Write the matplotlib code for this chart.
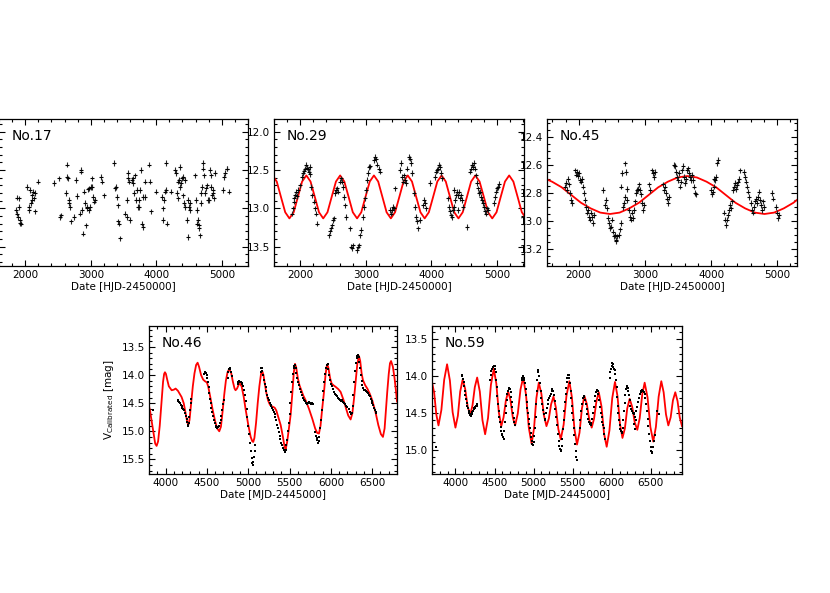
import numpy as np
import matplotlib
matplotlib.use('Agg')
import matplotlib.pyplot as plt
from matplotlib.ticker import MultipleLocator

plt.rcParams['font.family'] = ['DejaVu Sans']

# ============================================================================
# DATA
# ============================================================================

# --- No.17 (no model) ---
n17_date = [1856, 1872, 1882, 1892, 1903, 1913, 1928, 1938, 1908, 2026, 2051, 2062, 2077, 2087,
            2097, 2108, 2118, 2133, 2144, 2154, 2190, 2436, 2513, 2538, 2549, 2615, 2631, 2641,
            2651, 2662, 2672, 2682, 2692, 2744, 2769, 2795, 2836, 2846, 2856, 2872, 2882, 2897,
            2913, 2928, 2938, 2949, 2959, 2969, 2979, 2990, 3005, 3015, 3026, 3041, 3051, 3067,
            3154, 3179, 3205, 3359, 3369, 3385, 3395, 3410, 3420, 3436, 3446, 3523, 3549, 3554,
            3564, 3574, 3585, 3600, 3631, 3641, 3651, 3661, 3672, 3692, 3708, 3723, 3733, 3744,
            3754, 3764, 3785, 3795, 3805, 3821, 3831, 3892, 3903, 3913, 3990, 4087, 4097, 4108,
            4118, 4133, 4144, 4154, 4164, 4231, 4292, 4308, 4318, 4328, 4338, 4349, 4359, 4369,
            4385, 4395, 4405, 4415, 4426, 4436, 4446, 4462, 4477, 4487, 4497, 4508, 4518, 4590,
            4605, 4615, 4626, 4636, 4646, 4656, 4667, 4677, 4687, 4697, 4708, 4718, 4733, 4749,
            4759, 4769, 4785, 4800, 4821, 4831, 4841, 4851, 4862, 4872, 4882, 4892, 5015, 5036,
            5056, 5072, 5087, 5103]
n17_mag = [13.02, 13.07, 12.86, 13.11, 12.98, 13.15, 13.19, 13.20, 12.87, 12.72, 13.02, 12.98, 12.76, 12.93,
           12.89, 12.83, 12.78, 12.87, 12.80, 13.04, 12.65, 12.67, 12.61, 13.11, 13.09, 12.80, 12.59, 12.43,
           12.61, 12.89, 12.93, 12.98, 13.17, 13.11, 12.63, 12.84, 13.07, 12.52, 12.50, 13.02, 13.33, 12.78,
           12.93, 13.22, 12.98, 13.00, 12.75, 13.02, 12.74, 12.98, 12.72, 12.61, 12.72, 12.85, 12.91, 12.89,
           12.59, 12.65, 12.83, 12.41, 12.74, 12.72, 12.85, 12.96, 13.17, 13.20, 13.39, 13.07, 13.11, 12.89,
           12.61, 12.54, 12.65, 13.15, 12.63, 12.61, 12.67, 12.80, 12.57, 12.89, 12.76, 12.98, 12.89, 12.98,
           12.76, 12.50, 13.20, 13.24, 12.85, 12.65, 12.85, 12.43, 12.65, 13.04, 12.78, 12.85, 13.15, 13.00,
           12.89, 12.78, 12.41, 12.76, 13.20, 12.78, 12.50, 12.54, 12.80, 12.65, 12.87, 12.63, 12.46, 12.72,
           12.67, 12.61, 12.83, 12.59, 12.93, 12.98, 12.63, 13.15, 13.37, 12.89, 12.98, 12.93, 13.02, 12.57,
           12.89, 13.02, 13.20, 13.15, 13.22, 13.26, 13.35, 12.93, 12.80, 12.72, 12.41, 12.48, 12.57, 12.80,
           12.74, 12.70, 12.89, 12.89, 12.50, 12.57, 12.72, 12.83, 12.80, 12.76, 12.87, 12.54, 12.76, 12.59,
           12.54, 12.48, 12.48, 12.78]

# --- No.29 ---
n29_date = [1873, 1888, 1898, 1908, 1924, 1939, 1949, 1964, 2000, 2025, 2041, 2061, 2076, 2092, 2102,
            2117, 2132, 2142, 2153, 2168, 2183, 2203, 2219, 2234, 2249, 2432, 2447, 2463, 2478, 2493,
            2509, 2534, 2549, 2564, 2580, 2600, 2620, 2636, 2651, 2671, 2687, 2702, 2753, 2773, 2788,
            2803, 2864, 2880, 2895, 2915, 2931, 2951, 2966, 2981, 2997, 3012, 3027, 3048, 3068, 3129,
            3144, 3159, 3175, 3195, 3210, 3363, 3378, 3393, 3409, 3424, 3439, 3515, 3536, 3551, 3566,
            3581, 3597, 3612, 3627, 3653, 3668, 3683, 3698, 3729, 3754, 3770, 3785, 3800, 3820, 3871,
            3887, 3902, 3917, 3983, 4059, 4075, 4090, 4105, 4120, 4136, 4151, 4166, 4253, 4268, 4283,
            4298, 4314, 4329, 4344, 4359, 4375, 4390, 4405, 4420, 4436, 4451, 4466, 4481, 4400, 4349,
            4543, 4593, 4609, 4624, 4639, 4654, 4670, 4685, 4700, 4715, 4731, 4746, 4761, 4776, 4792,
            4807, 4822, 4837, 4853, 4868, 4949, 4964, 4980, 4995, 5010, 5025]
n29_mag = [13.07, 13.00, 12.91, 12.87, 12.83, 12.78, 12.84, 12.76, 12.70, 12.59, 12.54, 12.51, 12.48, 12.43, 12.47,
           12.49, 12.52, 12.55, 12.46, 12.72, 12.83, 12.91, 13.00, 13.07, 13.20, 13.35, 13.30, 13.26, 13.22, 13.15,
           13.13, 12.80, 12.76, 12.74, 12.78, 12.65, 12.61, 12.65, 12.72, 12.85, 12.96, 13.11, 13.26, 13.50, 13.52,
           13.48, 13.54, 13.50, 13.48, 13.35, 13.28, 13.11, 12.98, 12.87, 12.76, 12.63, 12.54, 12.46, 12.45, 12.37,
           12.33, 12.36, 12.43, 12.48, 12.52, 13.02, 13.07, 13.02, 12.98, 13.00, 12.74, 12.50, 12.41, 12.59, 12.65,
           12.57, 12.63, 12.67, 12.48, 12.33, 12.35, 12.41, 12.54, 12.80, 12.98, 13.11, 13.17, 13.26, 13.15, 12.96,
           12.89, 12.93, 13.00, 12.67, 12.59, 12.52, 12.50, 12.48, 12.43, 12.46, 12.54, 12.61, 12.87, 12.98, 13.04,
           13.09, 13.11, 13.02, 12.98, 12.89, 12.83, 12.78, 12.83, 12.78, 12.87, 12.83, 12.89, 12.98, 13.02, 12.76,
           13.24, 12.52, 12.48, 12.43, 12.46, 12.41, 12.48, 12.57, 12.67, 12.74, 12.80, 12.78, 12.85, 12.89, 12.93,
           12.98, 13.04, 13.07, 13.00, 13.02, 12.93, 12.85, 12.78, 12.74, 12.72, 12.68]
n29_model_date = [1578, 1642, 1706, 1771, 1835, 1900, 1964, 2028, 2093, 2157, 2222, 2286, 2350, 2415,
                  2479, 2544, 2608, 2672, 2737, 2801, 2866, 2930, 2994, 3059, 3123, 3188, 3252, 3316,
                  3381, 3445, 3510, 3574, 3638, 3703, 3767, 3832, 3896, 3960, 4025, 4089, 4154, 4218,
                  4282, 4347, 4411, 4476, 4540, 4604, 4669, 4733, 4798, 4862, 4926, 4991, 5055, 5120,
                  5184, 5248, 5313, 5377, 5442]
n29_model_mag = [12.57, 12.65, 12.85, 13.05, 13.13, 13.05, 12.85, 12.65, 12.57, 12.65, 12.85, 13.05, 13.13, 13.05,
                 12.85, 12.65, 12.57, 12.65, 12.85, 13.05, 13.13, 13.05, 12.85, 12.65, 12.57, 12.65, 12.85, 13.05,
                 13.13, 13.05, 12.85, 12.65, 12.57, 12.65, 12.85, 13.05, 13.13, 13.05, 12.85, 12.65, 12.57, 12.65,
                 12.85, 13.05, 13.13, 13.05, 12.85, 12.65, 12.57, 12.65, 12.85, 13.05, 13.13, 13.05, 12.85, 12.65,
                 12.57, 12.65, 12.85, 13.05, 13.13]

# --- No.45 ---
n45_date = [1787, 1802, 1817, 1832, 1848, 1863, 1878, 1893, 1949, 1964, 1980, 1995, 2010, 2025, 2041,
            2056, 2066, 2081, 2096, 2112, 2127, 2142, 2157, 2173, 2188, 2203, 2218, 2233, 2371, 2396,
            2411, 2431, 2447, 2462, 2477, 2492, 2508, 2523, 2538, 2553, 2569, 2563, 2584, 2604, 2624,
            2645, 2635, 2650, 2675, 2690, 2706, 2756, 2772, 2787, 2802, 2817, 2833, 2700, 2716, 2736,
            2736, 2853, 2868, 2883, 2898, 2914, 2929, 2944, 2959, 2975, 2990, 3066, 3081, 3107, 3122,
            3137, 3152, 3269, 3284, 3299, 3315, 3330, 3345, 3360, 3437, 3452, 3467, 3482, 3497, 3513,
            3528, 3543, 3558, 3574, 3589, 3604, 3619, 3634, 3650, 3665, 3680, 3695, 3711, 3726, 3741,
            3756, 3772, 3995, 4010, 4025, 4041, 4046, 4061, 4076, 4086, 4101, 4198, 4213, 4228, 4244,
            4259, 4274, 4289, 4305, 4320, 4330, 4345, 4360, 4376, 4391, 4406, 4421, 4437, 4502, 4518,
            4533, 4548, 4563, 4579, 4604, 4619, 4634, 4650, 4665, 4680, 4695, 4711, 4726, 4741, 4756,
            4772, 4787, 4802, 4919, 4934, 4985, 5000, 5015, 5030]
n45_mag = [12.755, 12.73, 12.78, 12.70, 12.74, 12.80, 12.85, 12.87, 12.64, 12.67, 12.65, 12.68, 12.66, 12.71, 12.72,
           12.70, 12.755, 12.80, 12.85, 12.90, 12.94, 12.92, 12.97, 12.99, 12.94, 12.97, 13.015, 12.955, 12.78, 12.885,
           12.85, 12.91, 12.98, 13.015, 13.05, 13.04, 12.99, 13.075, 13.11, 13.10, 13.135, 13.145, 13.11, 13.10, 13.06,
           13.015, 12.755, 12.66, 12.90, 12.87, 12.83, 12.92, 12.97, 12.99, 12.94, 12.98, 12.92, 12.59, 12.65, 12.77,
           12.85, 12.86, 12.80, 12.78, 12.77, 12.74, 12.78, 12.81, 12.87, 12.92, 12.885, 12.74, 12.78, 12.64, 12.66,
           12.685, 12.65, 12.74, 12.78, 12.755, 12.80, 12.84, 12.87, 12.83, 12.60, 12.61, 12.65, 12.685, 12.71, 12.66,
           12.755, 12.72, 12.64, 12.61, 12.685, 12.73, 12.70, 12.64, 12.625, 12.66, 12.685, 12.71, 12.67, 12.71, 12.755,
           12.80, 12.81, 12.78, 12.81, 12.79, 12.755, 12.70, 12.71, 12.685, 12.59, 12.565, 12.94, 12.99, 13.03, 12.99,
           12.955, 12.92, 12.885, 12.91, 12.86, 12.78, 12.755, 12.73, 12.77, 12.745, 12.72, 12.70, 12.64, 12.65, 12.685,
           12.72, 12.755, 12.79, 12.83, 12.87, 12.92, 12.94, 12.90, 12.86, 12.84, 12.87, 12.83, 12.79, 12.85, 12.885,
           12.92, 12.86, 12.90, 12.80, 12.84, 12.90, 12.94, 12.98, 12.955]
n45_model_date = [1450, 1596, 1742, 1888, 2034, 2180, 2326, 2472, 2618, 2764, 2910, 3056, 3202, 3348,
                  3494, 3640, 3786, 3932, 4078, 4224, 4370, 4516, 4662, 4808, 4954, 5100, 5246, 5392]
n45_model_mag = [12.69, 12.72, 12.76, 12.815, 12.87, 12.91, 12.94, 12.95, 12.94, 12.91, 12.87, 12.815, 12.76, 12.72,
                 12.69, 12.68, 12.69, 12.72, 12.76, 12.815, 12.87, 12.91, 12.94, 12.95, 12.94, 12.91, 12.87, 12.815]

# --- No.46 ---
n46_date = [3852,
            4145, 4155, 4165, 4175, 4185, 4195, 4205, 4215, 4225, 4235, 4245, 4255, 4262, 4268, 4274,
            4280, 4288, 4295, 4303, 4312,
            4468, 4475, 4483, 4490, 4497, 4505, 4512, 4520, 4528, 4536, 4545, 4555, 4565, 4575, 4585,
            4595, 4605, 4615, 4625, 4635, 4645, 4655, 4665, 4675, 4685, 4695, 4705,
            4752, 4760, 4768, 4775, 4782, 4790, 4798,
            4872, 4880, 4890, 4900, 4910, 4920, 4930, 4940, 4950, 4960, 4970, 4980, 4990, 5000, 5010,
            5020, 5030, 5040, 5048, 5055, 5062, 5070, 5078, 5085,
            5150, 5158, 5165, 5172, 5180, 5190, 5200, 5210, 5220, 5230, 5240, 5250, 5260, 5270, 5280,
            5290, 5300, 5310, 5320, 5330, 5340, 5350, 5360, 5370, 5380, 5390, 5400, 5410, 5420, 5430,
            5440, 5448, 5455, 5462, 5470,
            5480, 5490, 5500, 5510, 5520, 5530, 5540, 5550, 5558, 5566, 5574, 5582, 5590, 5600, 5612,
            5624, 5636, 5648, 5660, 5672, 5684, 5696, 5708, 5720, 5732, 5744, 5756, 5768, 5780,
            5812, 5820, 5828, 5836, 5844, 5852, 5860, 5870, 5880, 5890, 5900, 5910, 5920, 5930, 5940, 5950,
            5960, 5970, 5980, 5990, 6000, 6012, 6024, 6036, 6048, 6060, 6072, 6084, 6096, 6108, 6120,
            6132, 6144, 6156, 6168, 6180, 6192, 6215, 6228, 6240, 6250,
            6262, 6272, 6282, 6292, 6302, 6312, 6322, 6330, 6338, 6346, 6354, 6362, 6372, 6382, 6392,
            6402, 6412, 6422, 6432, 6442, 6452, 6462, 6472, 6482, 6492, 6502, 6512, 6522, 6532, 6542, 6552]
n46_mag = [14.62,
           14.45, 14.47, 14.48, 14.50, 14.53, 14.55, 14.58, 14.60, 14.63, 14.68, 14.72, 14.78, 14.84, 14.88, 14.90,
           14.86, 14.75, 14.62, 14.50, 14.42,
           13.98, 13.96, 13.95, 13.97, 14.00, 14.05, 14.12, 14.22, 14.32, 14.42, 14.50, 14.58, 14.66, 14.73, 14.80,
           14.85, 14.90, 14.93, 14.95, 14.93, 14.90, 14.86, 14.80, 14.72, 14.62, 14.52, 14.45,
           14.05, 13.95, 13.90, 13.88, 13.90, 13.95, 14.02,
           14.15, 14.12, 14.11, 14.12, 14.13, 14.14, 14.16, 14.20, 14.27, 14.36, 14.47, 14.60, 14.75, 14.90, 15.05,
           15.20, 15.35, 15.48, 15.56, 15.60, 15.55, 15.45, 15.35, 15.25,
           13.95, 13.88, 13.87, 13.92, 14.00, 14.08, 14.15, 14.22, 14.28, 14.35, 14.40, 14.45, 14.50, 14.53, 14.55,
           14.58, 14.62, 14.66, 14.70, 14.75, 14.80, 14.88, 14.95, 15.02, 15.08, 15.14, 15.20, 15.25, 15.30, 15.33,
           15.35, 15.36, 15.33, 15.25, 15.15,
           15.00, 14.85, 14.70, 14.50, 14.30, 14.12, 13.98, 13.88, 13.83, 13.82, 13.88, 13.97, 14.05, 14.12, 14.18,
           14.24, 14.30, 14.35, 14.40, 14.44, 14.47, 14.50, 14.52, 14.50, 14.48, 14.50, 14.52, 14.49, 14.51,
           15.02, 15.08, 15.12, 15.16, 15.20, 15.17, 15.10, 14.95, 14.80, 14.62, 14.45, 14.28, 14.12, 13.98, 13.88, 13.82,
           13.80, 13.90, 14.00, 14.08, 14.15, 14.20, 14.25, 14.30, 14.33, 14.36, 14.38, 14.40, 14.42, 14.44, 14.46,
           14.45, 14.48, 14.50, 14.52, 14.55, 14.57, 14.60, 14.66, 14.70, 14.68,
           14.55, 14.35, 14.12, 13.92, 13.78, 13.70, 13.66, 13.64, 13.68, 13.76, 13.88, 14.00, 14.10, 14.18, 14.23,
           14.26, 14.27, 14.28, 14.30, 14.31, 14.32, 14.35, 14.38, 14.42, 14.46, 14.50, 14.54, 14.58, 14.62, 14.65, 14.68]
n46_model_date = [3800, 3812, 3835, 3860, 3875, 3892, 3910, 3930, 3950, 3970, 3983, 3993, 4005, 4020, 4040,
                  4074, 4100, 4122, 4150, 4194, 4220, 4245, 4262, 4275, 4290, 4310, 4330, 4350, 4370, 4388,
                  4405, 4430, 4455, 4477, 4500, 4517, 4540, 4570, 4600, 4625, 4650, 4670, 4690, 4710, 4730,
                  4750, 4770, 4795, 4815, 4835, 4847, 4865, 4885, 4900, 4920, 4945, 4970, 5000, 5030, 5050,
                  5061, 5075, 5095, 5115, 5135, 5155, 5170, 5185, 5200, 5220, 5240, 5263, 5292, 5320, 5340,
                  5370, 5393, 5420, 5440, 5453, 5470, 5490, 5514, 5535, 5552, 5566, 5580, 5600, 5620, 5635,
                  5665, 5695, 5735, 5776, 5810, 5835, 5856, 5875, 5895, 5917, 5935, 5950, 5957, 5970, 5990,
                  6009, 6030, 6058, 6090, 6118, 6150, 6179, 6210, 6239, 6260, 6280, 6300, 6320, 6340, 6355,
                  6372, 6388, 6415, 6441, 6470, 6501, 6540, 6574, 6605, 6630, 6650, 6665, 6682, 6700, 6715,
                  6728, 6750, 6770, 6785, 6800]
n46_model_mag = [14.55, 14.63, 14.85, 15.10, 15.22, 15.26, 15.18, 14.90, 14.50, 14.12, 13.98, 13.95, 13.98, 14.08, 14.20,
                 14.27, 14.26, 14.24, 14.28, 14.39, 14.50, 14.70, 14.83, 14.89, 14.80, 14.50, 14.20, 13.97, 13.82, 13.78,
                 13.85, 14.00, 14.08, 14.11, 14.13, 14.21, 14.38, 14.62, 14.82, 14.95, 15.00, 14.92, 14.65, 14.35, 14.10,
                 13.95, 13.89, 13.97, 14.12, 14.24, 14.27, 14.24, 14.17, 14.15, 14.20, 14.38, 14.62, 14.88, 15.10, 15.18,
                 15.19, 15.12, 14.85, 14.50, 14.20, 13.98, 13.93, 14.00, 14.15, 14.32, 14.45, 14.53, 14.56, 14.58, 14.63,
                 14.78, 14.89, 15.10, 15.28, 15.32, 15.20, 14.98, 14.70, 14.30, 13.95, 13.80, 13.86, 14.05, 14.18, 14.24,
                 14.36, 14.45, 14.60, 14.78, 14.95, 15.03, 15.04, 14.90, 14.60, 14.30, 14.00, 13.84, 13.81, 13.87, 14.05,
                 14.15, 14.18, 14.21, 14.25, 14.30, 14.43, 14.57, 14.72, 14.79, 14.68, 14.42, 14.10, 13.80, 13.66, 13.75,
                 13.97, 14.09, 14.18, 14.24, 14.33, 14.45, 14.66, 14.89, 15.05, 15.10, 14.95, 14.65, 14.30, 13.98, 13.79,
                 13.75, 13.85, 14.05, 14.25, 14.47]

# --- No.59 ---
n59_date = [3745,
            4080, 4088, 4096, 4104, 4112, 4120, 4128, 4136, 4144, 4152, 4160, 4168, 4176, 4184, 4192,
            4200, 4208, 4216, 4224, 4232, 4240, 4248, 4256, 4264, 4272, 4280,
            4440, 4450, 4460, 4470, 4480, 4490, 4500, 4508, 4515, 4522, 4530, 4538, 4546, 4554, 4562,
            4570, 4578, 4586, 4594, 4602, 4610, 4618, 4626, 4634, 4642, 4650, 4658, 4666, 4674, 4682,
            4690, 4698, 4706, 4714, 4722, 4730, 4738, 4746, 4754, 4762,
            4850, 4858, 4866, 4874, 4882, 4890, 4898, 4906, 4914, 4922, 4930, 4938, 4946, 4954, 4962,
            4970, 4978, 4986, 4994, 5002, 5010, 5018, 5026, 5034, 5042, 5050, 5056, 5062, 5068,
            5080, 5090, 5100, 5110, 5120, 5130, 5140, 5150, 5160, 5170, 5180, 5190, 5200, 5210, 5220,
            5230, 5240, 5250, 5260, 5270, 5280, 5290, 5300,
            5310, 5320, 5330, 5338, 5346, 5354, 5362, 5370, 5378, 5386, 5394, 5402, 5410, 5418, 5426,
            5434, 5442, 5450, 5458, 5466, 5474, 5482, 5490, 5498, 5506, 5514, 5522, 5530, 5538, 5546, 5552,
            5590, 5600, 5610, 5620, 5630, 5640, 5650, 5660, 5670, 5680, 5690, 5700, 5710, 5720, 5730,
            5740, 5750, 5760, 5770, 5780, 5790, 5800, 5810, 5820, 5830, 5840, 5850, 5860, 5870, 5880,
            5890, 5900, 5905, 5915,
            5975, 5982, 5990, 5998, 6006, 6014, 6022, 6030, 6038, 6046, 6054, 6062, 6070, 6078, 6086,
            6094, 6102, 6110, 6118, 6126, 6134, 6142, 6150, 6158, 6166, 6174, 6182, 6190, 6198, 6206,
            6214, 6222, 6230, 6240, 6250, 6260, 6270, 6280, 6290, 6300, 6310, 6285, 6295, 6305,
            6330, 6340, 6350, 6360, 6370, 6380, 6390, 6400, 6410, 6420, 6430, 6440, 6450, 6460, 6470,
            6480, 6490, 6498, 6506, 6514, 6522, 6530, 6540, 6550, 6585, 6600]
n59_mag = [14.96,
           13.98, 14.00, 14.04, 14.08, 14.14, 14.20, 14.26, 14.31, 14.36, 14.40, 14.44, 14.47, 14.50, 14.52, 14.53,
           14.54, 14.51, 14.49, 14.47, 14.45, 14.44, 14.43, 14.42, 14.41, 14.40, 14.38,
           14.05, 13.98, 13.93, 13.90, 13.88, 13.86, 13.87, 13.90, 13.95, 14.05, 14.15, 14.27, 14.38, 14.48, 14.56,
           14.63, 14.69, 14.74, 14.78, 14.80, 14.83, 14.85, 14.75, 14.62, 14.50, 14.40, 14.32, 14.25, 14.20, 14.17,
           14.16, 14.18, 14.22, 14.28, 14.35, 14.42, 14.50, 14.57, 14.62, 14.66,
           14.05, 14.02, 14.00, 14.02, 14.06, 14.10, 14.18, 14.26, 14.35, 14.43, 14.50, 14.58, 14.65, 14.71, 14.77,
           14.83, 14.88, 14.92, 14.94, 14.90, 14.82, 14.70, 14.55, 14.38, 14.20, 14.05, 13.95, 13.92, 14.00,
           14.10, 14.20, 14.30, 14.38, 14.46, 14.52, 14.58, 14.60, 14.50, 14.44, 14.38, 14.33, 14.30, 14.27, 14.24,
           14.20, 14.17, 14.20, 14.26, 14.34, 14.45, 14.56, 14.66,
           14.78, 14.88, 14.95, 14.99, 15.02, 15.00, 14.95, 14.85, 14.72, 14.60, 14.47, 14.35, 14.25, 14.16, 14.08,
           14.03, 13.99, 13.98, 14.02, 14.10, 14.20, 14.30, 14.40, 14.50, 14.60, 14.70, 14.80, 14.92, 15.02, 15.10, 15.14,
           14.70, 14.60, 14.48, 14.38, 14.30, 14.27, 14.28, 14.32, 14.38, 14.45, 14.52, 14.58, 14.62, 14.65, 14.67,
           14.64, 14.58, 14.50, 14.42, 14.34, 14.27, 14.22, 14.19, 14.20, 14.25, 14.33, 14.42, 14.50, 14.56, 14.62,
           14.67, 14.70, 14.78, 14.85,
           14.02, 13.95, 13.90, 13.86, 13.82, 13.84, 13.88, 13.90, 13.92, 13.97, 14.05, 14.15, 14.28, 14.40, 14.50,
           14.60, 14.67, 14.72, 14.75, 14.77, 14.76, 14.70, 14.60, 14.48, 14.36, 14.26, 14.18, 14.15, 14.14, 14.16,
           14.20, 14.26, 14.32, 14.40, 14.45, 14.48, 14.50, 14.52, 14.50, 14.55, 14.48, 14.65, 14.72, 14.60,
           14.42, 14.35, 14.30, 14.25, 14.22, 14.20, 14.19, 14.20, 14.22, 14.25, 14.30, 14.38, 14.48, 14.58, 14.68,
           14.78, 14.88, 14.96, 15.02, 15.05, 15.03, 14.97, 14.88, 14.80, 14.48, 14.52]
n59_model_date = [3700, 3728, 3755, 3783, 3820, 3856, 3893, 3929, 3964, 4000, 4031, 4061, 4092, 4124, 4156,
                  4188, 4218, 4248, 4278, 4312, 4346, 4380, 4417, 4454, 4491, 4523, 4555, 4587, 4616, 4646,
                  4675, 4705, 4734, 4764, 4798, 4833, 4867, 4903, 4939, 4975, 5006, 5036, 5067, 5100, 5132,
                  5165, 5195, 5225, 5255, 5286, 5317, 5348, 5385, 5421, 5458, 5491, 5523, 5556, 5588, 5619,
                  5651, 5682, 5713, 5744, 5774, 5805, 5835, 5869, 5902, 5936, 5971, 6007, 6042, 6074, 6106,
                  6138, 6169, 6199, 6230, 6263, 6295, 6328, 6359, 6391, 6422, 6459, 6495, 6532, 6566, 6601,
                  6635, 6665, 6695, 6725, 6755, 6784, 6814, 6843, 6871, 6900]
n59_model_mag = [14.08, 14.23, 14.52, 14.67, 14.46, 14.05, 13.84, 14.06, 14.49, 14.70, 14.54, 14.21, 14.05, 14.17, 14.41,
                 14.53, 14.40, 14.15, 14.02, 14.21, 14.60, 14.79, 14.57, 14.12, 13.90, 14.10, 14.49, 14.68, 14.56, 14.33,
                 14.21, 14.33, 14.56, 14.67, 14.51, 14.18, 14.02, 14.25, 14.70, 14.92, 14.71, 14.30, 14.09, 14.24, 14.53,
                 14.68, 14.58, 14.38, 14.28, 14.43, 14.72, 14.86, 14.66, 14.27, 14.07, 14.29, 14.72, 14.93, 14.77, 14.44,
                 14.27, 14.38, 14.59, 14.70, 14.58, 14.34, 14.22, 14.41, 14.78, 14.96, 14.74, 14.30, 14.08, 14.27, 14.65,
                 14.84, 14.71, 14.44, 14.31, 14.42, 14.63, 14.73, 14.57, 14.25, 14.09, 14.29, 14.69, 14.89, 14.69, 14.28,
                 14.07, 14.22, 14.52, 14.67, 14.56, 14.33, 14.22, 14.34, 14.56, 14.68]

# ============================================================================
# FIGURE
# ============================================================================

W, H = 830, 593
fig = plt.figure(figsize=(W / 100, H / 100), dpi=100)


def make_axes(x0, y_top, w, h):
    return fig.add_axes([x0 / W, 1 - (y_top + h) / H, w / W, h / H])


def style_axes(ax, xlim, ylim, xmaj, xmin, ymaj, ymin, xlabel, name):
    ax.set_xlim(*xlim)
    ax.set_ylim(*ylim)
    ax.xaxis.set_major_locator(MultipleLocator(xmaj))
    ax.xaxis.set_minor_locator(MultipleLocator(xmin))
    ax.yaxis.set_major_locator(MultipleLocator(ymaj))
    ax.yaxis.set_minor_locator(MultipleLocator(ymin))
    ax.tick_params(which='both', direction='in', top=True, right=True,
                   labelsize=7.5, width=0.8, pad=3)
    ax.tick_params(which='major', length=4)
    ax.tick_params(which='minor', length=2)
    for s in ax.spines.values():
        s.set_linewidth(0.9)
    ax.set_xlabel(xlabel, fontsize=7.5, labelpad=1)
    ax.text(0.05, 0.885, name, transform=ax.transAxes, fontsize=10, va='center', ha='left')


def draw_errpts(ax, x, y, err):
    ax.errorbar(x, y, yerr=err, fmt='_', ms=3, mew=0.8, color='k',
                ecolor='0.15', elinewidth=0.8, capsize=0, zorder=3)


# top row
ax1 = make_axes(-1, 119, 249, 147)
draw_errpts(ax1, n17_date, n17_mag, 0.035)
style_axes(ax1, (1600, 5400), (13.75, 11.835), 1000, 200, 0.5, 0.1,
           'Date [HJD-2450000]', 'No.17')
ax1.tick_params(labelleft=False)  # its y labels fall outside the picture

ax2 = make_axes(274, 119, 250, 147)
draw_errpts(ax2, n29_date, n29_mag, 0.035)
ax2.plot(n29_model_date, n29_model_mag, color='red', lw=1.3, zorder=2)
style_axes(ax2, (1600, 5410), (13.75, 11.835), 1000, 200, 0.5, 0.1,
           'Date [HJD-2450000]', 'No.29')

ax3 = make_axes(547, 119, 250, 147)
draw_errpts(ax3, n45_date, n45_mag, 0.02)
ax3.plot(n45_model_date, n45_model_mag, color='red', lw=1.3, zorder=2)
style_axes(ax3, (1520, 5300), (13.32, 12.274), 1000, 200, 0.2, 0.05,
           'Date [HJD-2450000]', 'No.45')

# bottom row
ax4 = make_axes(149, 326, 248, 148)
ax4.plot(n46_date, n46_mag, 's', color='k', ms=2.1, mew=0, zorder=3)
ax4.plot(n46_model_date, n46_model_mag, color='red', lw=1.3, zorder=2)
style_axes(ax4, (3800, 6800), (15.76, 13.127), 500, 100, 0.5, 0.1,
           'Date [MJD-2445000]', 'No.46')
ax4.set_ylabel(r'V$_{\rm Calibrated}$ [mag]', fontsize=7.5, labelpad=4)

ax5 = make_axes(432, 326, 250, 148)
ax5.plot(n59_date, n59_mag, 's', color='k', ms=2.1, mew=0, zorder=3)
ax5.plot(n59_model_date, n59_model_mag, color='red', lw=1.3, zorder=2)
style_axes(ax5, (3700, 6900), (15.33, 13.32), 500, 100, 0.5, 0.1,
           'Date [MJD-2445000]', 'No.59')

fig.savefig('out.png', dpi=100)
